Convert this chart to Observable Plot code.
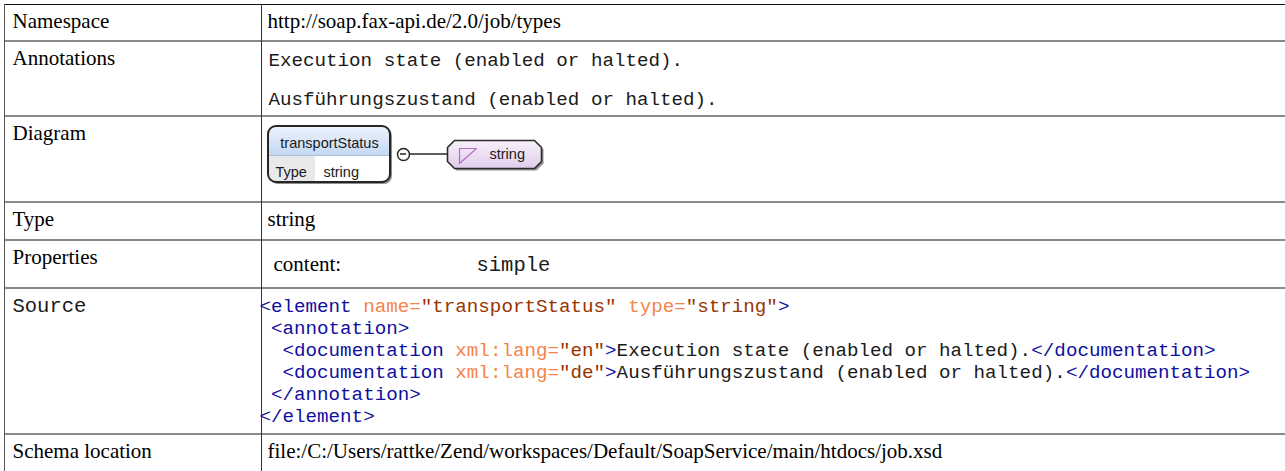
<!DOCTYPE html>
<html><head><meta charset="utf-8">
<script src="https://cdn.jsdelivr.net/npm/d3@7"></script>
<script src="https://cdn.jsdelivr.net/npm/@observablehq/plot@0.6"></script>
<style>html,body{margin:0;padding:0;background:#fff;} svg{display:block}</style>
</head><body><div id="chart"></div>
<script>
// ---- content ----
const rowLabels = ["Namespace", "Annotations", "Diagram", "Type", "Properties", "Source", "Schema location"];
const namespaceValue = "http://soap.fax-api.de/2.0/job/types";
const annotationLines = ["Execution state (enabled or halted).", "Ausführungszustand (enabled or halted)."];
const elementName = "transportStatus";
const elementTypeLabel = "Type";
const elementType = "string";
const typeValue = "string";
const propertyNames = ["content:"];
const propertyValues = ["simple"];
const sourceLines = [
  [["<element", "tag"], [" name=", "attr"], ["\"transportStatus\"", "val"], [" type=", "attr"], ["\"string\"", "val"], [">", "tag"]],
  [[" <annotation>", "tag"]],
  [["  <documentation", "tag"], [" xml:lang=", "attr"], ["\"en\"", "val"], [">", "tag"], ["Execution state (enabled or halted).", "text"], ["</documentation>", "tag"]],
  [["  <documentation", "tag"], [" xml:lang=", "attr"], ["\"de\"", "val"], [">", "tag"], ["Ausführungszustand (enabled or halted).", "text"], ["</documentation>", "tag"]],
  [[" </annotation>", "tag"]],
  [["</element>", "tag"]]
];
const schemaLocation = "file:/C:/Users/rattke/Zend/workspaces/Default/SoapService/main/htdocs/job.xsd";

// ---- layout & style ----
const W = 1285, H = 471;
const rowBounds = [4, 41, 116, 202, 240, 288, 434, 520];
const tableLeft = 4, dividerX = 261, labelX = 12, valueX = 267;
const SERIF = "Liberation Serif", MONO = "Liberation Mono", SANS = "Liberation Sans";
const serifSize = 21, monoSize = 19.2, sansSize = 14.5;
const charW = monoSize * 0.6;
const baseOff = 23;
const kindColor = {tag: "#0f0fa0", attr: "#F5844C", val: "#993300", text: "#1a1a1a"};

const labelRows = rowLabels.map((label, i) => ({label, y: rowBounds[i] + baseOff, mono: label === "Source"}));

const srcSegs = [];
sourceLines.forEach((segs, line) => {
  let off = 0;
  for (const [s, kind] of segs) {
    const t = s.trimStart();
    srcSegs.push({line, col: off + (s.length - t.length), text: t, kind});
    off += s.length;
  }
});
const srcX = 259, srcBase = rowBounds[5] + 23, srcLH = 22;

// diagram geometry
const box = {x1: 268, x2: 390, y1: 126, y2: 182, split: 155, typeX2: 315, r: 8};
const conn = {cx: 403, cy: 154, r: 6, x2: 447};
const tb = {x1: 447, x2: 541, y1: 140, y2: 168, c: 7};
const octagon = (dx, dy) => [
  [tb.x1 + tb.c, tb.y1], [tb.x2 - tb.c, tb.y1], [tb.x2, tb.y1 + tb.c], [tb.x2, tb.y2 - tb.c],
  [tb.x2 - tb.c, tb.y2], [tb.x1 + tb.c, tb.y2], [tb.x1, tb.y2 - tb.c], [tb.x1, tb.y1 + tb.c], [tb.x1 + tb.c, tb.y1]
].map(([x, y]) => ({x: x + dx, y: y + dy}));
const tri = [[459, 148], [476, 148], [459, 163], [459, 148]].map(([x, y]) => ({x, y}));

function defs() {
  const d = d3.create("svg:defs");
  const g1 = d.append("linearGradient").attr("id", "hdrGrad").attr("x1", 0).attr("y1", 0).attr("x2", 0).attr("y2", 1);
  g1.append("stop").attr("offset", "0%").attr("stop-color", "#eef4fc");
  g1.append("stop").attr("offset", "100%").attr("stop-color", "#b9d0f0");
  const g2 = d.append("linearGradient").attr("id", "typGrad").attr("x1", 0).attr("y1", 0).attr("x2", 0).attr("y2", 1);
  g2.append("stop").attr("offset", "0%").attr("stop-color", "#f7f0fa");
  g2.append("stop").attr("offset", "100%").attr("stop-color", "#e0cdea");
  return d.node();
}

const txt = (data, o) => Plot.text(data, {textAnchor: "start", lineAnchor: "bottom", fill: "#000", ...o});

const chart = Plot.plot({
  width: W, height: H, margin: 0,
  x: {domain: [0, W], range: [0, W], axis: null},
  y: {domain: [0, H], range: [0, H], axis: null},
  color: {type: "identity"},
  style: {background: "#fff"},
  marks: [
    defs,
    // table grid
    Plot.ruleY(rowBounds.slice(1, 7), {x1: tableLeft, x2: W, stroke: "#8a8a8a", strokeWidth: 2, dy: -0.5}),
    Plot.ruleY([rowBounds[0]], {x1: tableLeft, x2: W, stroke: "#111"}),
    Plot.ruleX([tableLeft], {y1: rowBounds[0], y2: H, stroke: "#555"}),
    Plot.ruleX([dividerX], {y1: rowBounds[0], y2: H, stroke: "#333"}),
    // labels
    txt(labelRows.filter(d => !d.mono), {x: labelX, y: "y", text: "label", fontFamily: SERIF, fontSize: serifSize}),
    txt(labelRows.filter(d => d.mono), {x: labelX, y: "y", text: "label", fontFamily: MONO, fontSize: 20.5, fill: "#1a1a1a"}),
    // values
    txt([namespaceValue], {x: valueX, y: rowBounds[0] + baseOff, text: d => d, fontFamily: SERIF, fontSize: serifSize}),
    txt(annotationLines, {x: valueX + 1, y: (d, i) => rowBounds[1] + 24 + i * 39, text: d => d, fontFamily: MONO, fontSize: monoSize, fill: "#1a1a1a"}),
    txt([typeValue], {x: valueX, y: rowBounds[3] + baseOff, text: d => d, fontFamily: SERIF, fontSize: serifSize}),
    txt(propertyNames, {x: valueX + 6, y: rowBounds[4] + 30, text: d => d, fontFamily: SERIF, fontSize: serifSize}),
    txt(propertyValues, {x: valueX + 209, y: rowBounds[4] + 30, text: d => d, fontFamily: MONO, fontSize: 20.5, fill: "#1a1a1a"}),
    txt(srcSegs, {x: d => srcX + d.col * charW, y: d => srcBase + d.line * srcLH, text: "text", fill: d => kindColor[d.kind], fontFamily: MONO, fontSize: monoSize}),
    txt([schemaLocation], {x: valueX, y: rowBounds[6] + baseOff, text: d => d, fontFamily: SERIF, fontSize: serifSize}),
    // diagram: element box
    Plot.rect([box], {x1: d => d.x1 + 2, x2: d => d.x2 + 2, y1: d => d.y1 + 2, y2: d => d.y2 + 2, rx: box.r, fill: "#8f8f8f"}),
    Plot.rect([box], {x1: "x1", x2: "x2", y1: "y1", y2: "y2", rx: box.r, fill: "#fff"}),
    Plot.rect([box], {x1: "x1", x2: "x2", y1: "y1", y2: d => d.split + 8, rx: box.r, fill: "url(#hdrGrad)"}),
    Plot.rect([box], {x1: "x1", x2: "x2", y1: "split", y2: d => d.split + 10, fill: "#fff"}),
    Plot.rect([box], {x1: "x1", x2: d => d.typeX2 + 10, y1: "split", y2: "y2", rx: box.r, fill: "#e9e9e9"}),
    Plot.rect([box], {x1: "x1", x2: d => d.typeX2 - 12, y1: "split", y2: d => d.split + 10, fill: "#e9e9e9"}),
    Plot.rect([box], {x1: "typeX2", x2: d => d.typeX2 + 12, y1: "split", y2: "y2", fill: "#fff"}),
    Plot.ruleY([box], {y: "split", x1: "x1", x2: "x2", stroke: "#a9bedb"}),
    Plot.rect([box], {x1: "x1", x2: "x2", y1: "y1", y2: "y2", rx: box.r, fill: "none", stroke: "#262626", strokeWidth: 2}),
    txt([elementName], {x: (box.x1 + box.x2) / 2, y: 147, text: d => d, textAnchor: "middle", fontFamily: SANS, fontSize: sansSize, fill: "#1a1a1a"}),
    txt([elementTypeLabel], {x: box.x1 + 7, y: 176, text: d => d, fontFamily: SANS, fontSize: sansSize, fill: "#1a1a1a"}),
    txt([elementType], {x: box.typeX2 + 8, y: 176, text: d => d, fontFamily: SANS, fontSize: sansSize, fill: "#1a1a1a"}),
    // connector
    Plot.ruleY([conn], {y: "cy", x1: d => d.cx + d.r, x2: "x2", stroke: "#5e5e5e", strokeWidth: 2, dy: -0.5}),
    Plot.dot([conn], {x: "cx", y: "cy", r: conn.r, fill: "#fff", stroke: "#262626", strokeWidth: 1.5}),
    Plot.ruleY([conn], {y: "cy", x1: d => d.cx - 3, x2: d => d.cx + 3, stroke: "#262626", strokeWidth: 1.5, dy: -0.5}),
    // type box
    Plot.line(octagon(2, 2), {x: "x", y: "y", fill: "#8f8f8f", stroke: "none"}),
    Plot.line(octagon(0, 0), {x: "x", y: "y", fill: "url(#typGrad)", stroke: "#2b2b2b", strokeWidth: 1.6}),
    Plot.line(tri, {x: "x", y: "y", stroke: "#b56ccc", strokeWidth: 1.2, fill: "none"}),
    txt([elementType], {x: 489, y: 158, text: d => d, fontFamily: SANS, fontSize: sansSize, fill: "#1a1a1a"})
  ]
});
document.getElementById("chart").append(chart);
</script></body></html>
